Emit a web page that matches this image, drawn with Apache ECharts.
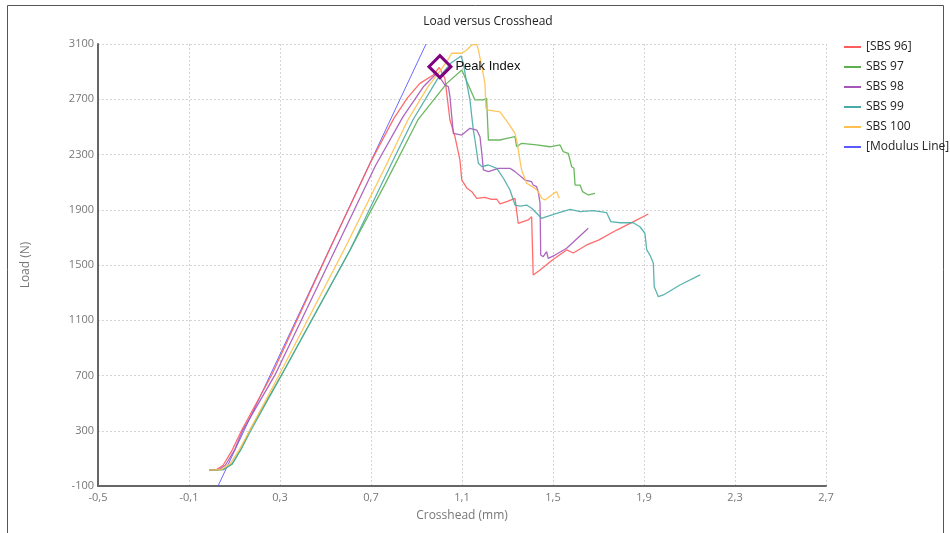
<!DOCTYPE html>
<html>
<head>
<meta charset="utf-8">
<script src="https://cdn.jsdelivr.net/npm/echarts@6/dist/echarts.min.js"></script>
<style>
html,body{margin:0;padding:0;background:#fff;}
#main{width:950px;height:533px;}
</style>
</head>
<body>
<div id="main"></div>
<script>
// crosshead (mm) / load (N)
var sbs96X = [-0.01, 0.02, 0.05, 0.09, 0.132, 0.2635, 0.517, 0.70, 0.80, 0.86, 0.915, 0.974, 1.0, 1.025, 1.047, 1.069, 1.091, 1.099, 1.121, 1.143, 1.165, 1.20, 1.23, 1.253, 1.267, 1.30, 1.333, 1.340, 1.347, 1.391, 1.406, 1.413, 1.443, 1.50, 1.560, 1.589, 1.648, 1.70, 1.780, 1.85, 1.919];
var sbs96Y = [15, 18, 50, 160, 305, 704, 1609, 2250, 2560, 2710, 2815, 2876, 2930, 2850, 2550, 2429, 2260, 2115, 2058, 2031, 1983, 1990, 1975, 1976, 1942, 1960, 1983, 1983, 1802, 1826, 1850, 1428, 1464, 1540, 1609, 1587, 1645, 1680, 1753, 1810, 1869];

var sbs97X = [-0.01, 0.05, 0.09, 0.13, 0.168, 0.307, 0.608, 0.76, 0.906, 1.033, 1.099, 1.113, 1.157, 1.194, 1.208, 1.216, 1.267, 1.296, 1.333, 1.340, 1.362, 1.428, 1.487, 1.531, 1.545, 1.567, 1.582, 1.592, 1.597, 1.619, 1.630, 1.655, 1.685];
var sbs97Y = [15, 18, 60, 170, 305, 704, 1609, 2080, 2550, 2815, 2912, 2860, 2695, 2695, 2707, 2405, 2405, 2417, 2429, 2356, 2381, 2369, 2356, 2369, 2320, 2309, 2212, 2200, 2079, 2079, 2031, 2007, 2019];

var sbs98X = [-0.01, 0.03, 0.06, 0.10, 0.137, 0.278, 0.542, 0.72, 0.841, 0.93, 0.99, 1.025, 1.040, 1.047, 1.055, 1.062, 1.099, 1.135, 1.165, 1.179, 1.187, 1.194, 1.216, 1.260, 1.311, 1.333, 1.377, 1.406, 1.413, 1.428, 1.435, 1.443, 1.446, 1.457, 1.472, 1.479, 1.509, 1.560, 1.655];
var sbs98Y = [15, 18, 50, 160, 305, 704, 1609, 2220, 2574, 2790, 2890, 2803, 2791, 2719, 2574, 2453, 2441, 2490, 2477, 2429, 2309, 2188, 2176, 2200, 2200, 2176, 2115, 2103, 2079, 2067, 2031, 1949, 1572, 1560, 1596, 1548, 1572, 1621, 1766];

var sbs99X = [-0.01, 0.05, 0.09, 0.13, 0.173, 0.307, 0.608, 0.78, 0.884, 0.99, 1.05, 1.096, 1.106, 1.121, 1.135, 1.143, 1.150, 1.157, 1.172, 1.187, 1.216, 1.253, 1.282, 1.311, 1.333, 1.355, 1.384, 1.406, 1.450, 1.472, 1.516, 1.575, 1.619, 1.677, 1.736, 1.754, 1.795, 1.853, 1.882, 1.904, 1.912, 1.926, 1.941, 1.945, 1.963, 1.985, 2.058, 2.147];
var sbs99Y = [15, 18, 60, 170, 305, 704, 1609, 2200, 2550, 2840, 2960, 3013, 2960, 2815, 2695, 2574, 2477, 2405, 2236, 2212, 2224, 2200, 2128, 2043, 1934, 1927, 1934, 1911, 1838, 1850, 1874, 1903, 1886, 1893, 1879, 1814, 1806, 1806, 1777, 1730, 1609, 1572, 1515, 1343, 1271, 1283, 1355, 1428];

var sbs100X = [-0.01, 0.04, 0.08, 0.12, 0.168, 0.296, 0.581, 0.76, 0.862, 0.95, 1.01, 1.033, 1.055, 1.099, 1.121, 1.143, 1.165, 1.172, 1.187, 1.201, 1.205, 1.216, 1.267, 1.304, 1.333, 1.343, 1.352, 1.362, 1.384, 1.421, 1.435, 1.450, 1.465, 1.494, 1.516, 1.528];
var sbs100Y = [15, 18, 60, 160, 305, 704, 1609, 2200, 2550, 2790, 2920, 2972, 3033, 3033, 3057, 3093, 3098, 3057, 2936, 2815, 2637, 2622, 2608, 2526, 2453, 2381, 2284, 2188, 2092, 2055, 2031, 1983, 1971, 2007, 2031, 1983];

var modulusX = [0.0275, 0.942];
var modulusY = [-100, 3100];

var peakX = [1.003];
var peakY = [2936];

var seriesNames = ['[SBS 96]', 'SBS 97', 'SBS 98', 'SBS 99', 'SBS 100', '[Modulus Line]'];
var seriesColors = ['#ff5c5c', '#5cb04f', '#a655b8', '#4aaba6', '#ffc04d', '#5a5aff'];

// axes run -0.5..2.7 and -100..3100, shifted so the tick interval starts at 0
var X_OFF = 0.5, Y_OFF = 100;

function pts(xs, ys) {
    return xs.map(function (x, i) { return [x + X_OFF, ys[i] + Y_OFF]; });
}

var myChart = echarts.init(document.getElementById('main'));

var lines = [[sbs96X, sbs96Y], [sbs97X, sbs97Y], [sbs98X, sbs98Y], [sbs99X, sbs99Y], [sbs100X, sbs100Y], [modulusX, modulusY]];
var series = lines.map(function (d, i) {
    return {
        name: seriesNames[i],
        type: 'line',
        data: pts(d[0], d[1]),
        symbol: 'none',
        clip: true,
        color: seriesColors[i],
        lineStyle: { width: i == 5 ? 1 : 1.3, color: seriesColors[i], opacity: 0.9 },
        z: i == 5 ? 1 : 2
    };
});
series.push({
    name: 'Peak Index',
    type: 'scatter',
    data: pts(peakX, peakY),
    symbol: 'diamond',
    symbolSize: [22, 22],
    itemStyle: { color: 'rgba(0,0,0,0)', borderColor: '#800080', borderWidth: 3, opacity: 1 },
    label: {
        show: true,
        position: 'right',
        formatter: 'Peak Index',
        color: '#111',
        fontSize: 13,
        fontFamily: 'Liberation Sans',
        distance: 3
    },
    z: 5
});

var option = {
    animation: false,
    title: {
        text: 'Load versus Crosshead',
        left: 483,
        textAlign: 'center',
        top: 11,
        textStyle: { fontSize: 12, fontWeight: 'normal', color: '#222', fontFamily: 'Open Sans' }
    },
    legend: {
        data: seriesNames,
        orient: 'vertical',
        left: 839,
        top: 36,
        icon: 'rect',
        itemWidth: 17,
        itemHeight: 2,
        itemGap: 8,
        textStyle: { fontSize: 12, color: '#222', fontFamily: 'Open Sans' }
    },
    grid: { left: 98, right: 124, top: 44, bottom: 47 },
    xAxis: {
        type: 'value',
        min: 0,
        max: 3.2,
        interval: 0.4,
        name: 'Crosshead (mm)',
        nameLocation: 'middle',
        nameGap: 24,
        nameTextStyle: { color: '#777', fontSize: 12, fontFamily: 'Open Sans' },
        axisLine: { show: true, onZero: false, lineStyle: { color: '#666', width: 2 } },
        axisTick: { show: false },
        axisLabel: {
            color: '#777', fontSize: 11, fontFamily: 'Open Sans', margin: 6,
            formatter: function (v) { return (Math.round((v - X_OFF) * 10) / 10).toFixed(1).replace('.', ','); }
        },
        splitLine: { show: true, lineStyle: { color: '#d4d4d4', type: [2, 2] } }
    },
    yAxis: {
        type: 'value',
        min: 0,
        max: 3200,
        interval: 400,
        name: 'Load (N)',
        nameLocation: 'middle',
        nameGap: 66,
        nameTextStyle: { color: '#777', fontSize: 12, fontFamily: 'Open Sans' },
        axisLine: { show: true, onZero: false, lineStyle: { color: '#666', width: 2 } },
        axisTick: { show: false },
        axisLabel: {
            color: '#777', fontSize: 11, fontFamily: 'Open Sans', margin: 4,
            formatter: function (v) { return String(v - Y_OFF); }
        },
        splitLine: { show: true, lineStyle: { color: '#d4d4d4', type: [2, 2] } }
    },
    graphic: [{
        type: 'rect',
        shape: { x: 7.5, y: 5.5, width: 936, height: 540 },
        style: { fill: 'none', stroke: '#555', lineWidth: 1 },
        silent: true
    }],
    series: series
};
myChart.setOption(option);
</script>
</body>
</html>
